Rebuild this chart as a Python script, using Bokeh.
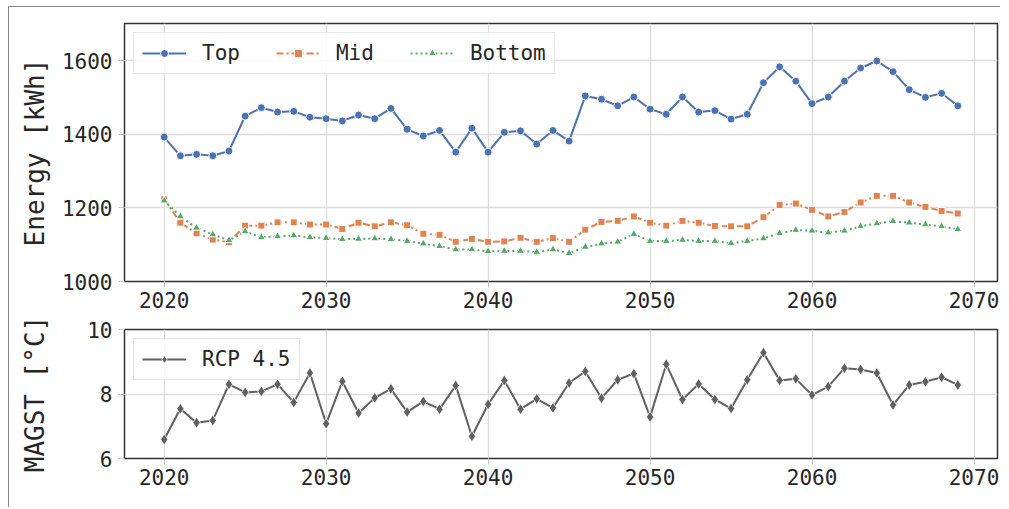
from bokeh.plotting import figure
from bokeh.models import Range1d, FixedTicker, Legend, LegendItem
from bokeh.layouts import column
from bokeh.embed import file_html
from bokeh.resources import INLINE

years = list(range(2020, 2070))
top = [1393, 1342, 1346, 1342, 1355, 1450, 1473, 1461, 1463, 1447,
       1443, 1437, 1453, 1443, 1471, 1414, 1396, 1411, 1352, 1417,
       1352, 1406, 1410, 1374, 1411, 1382, 1505, 1496, 1478, 1502,
       1469, 1455, 1502, 1461, 1465, 1442, 1455, 1541, 1584, 1545,
       1484, 1502, 1545, 1581, 1600, 1571, 1522, 1501, 1512, 1478]
mid = [1224, 1160, 1131, 1114, 1107, 1152, 1152, 1161, 1161, 1155,
       1155, 1143, 1160, 1150, 1161, 1153, 1130, 1127, 1108, 1116,
       1108, 1109, 1119, 1108, 1118, 1108, 1141, 1162, 1165, 1177,
       1160, 1152, 1165, 1160, 1151, 1150, 1150, 1175, 1208, 1212,
       1195, 1177, 1189, 1215, 1233, 1233, 1215, 1203, 1192, 1185]
bottom = [1220, 1177, 1146, 1128, 1112, 1136, 1120, 1123, 1125, 1120,
          1118, 1115, 1116, 1117, 1115, 1110, 1103, 1096, 1087, 1087,
          1082, 1083, 1083, 1080, 1087, 1077, 1094, 1103, 1108, 1129,
          1110, 1110, 1113, 1110, 1110, 1104, 1110, 1117, 1131, 1140,
          1138, 1133, 1138, 1150, 1158, 1164, 1160, 1155, 1150, 1142]
rcp = [6.59, 7.54, 7.11, 7.18, 8.30, 8.05, 8.08, 8.30, 7.74, 8.65,
       7.08, 8.39, 7.41, 7.88, 8.16, 7.44, 7.77, 7.53, 8.26, 6.69,
       7.68, 8.42, 7.53, 7.85, 7.57, 8.34, 8.70, 7.87, 8.44, 8.63,
       7.29, 8.92, 7.83, 8.31, 7.83, 7.55, 8.44, 9.28, 8.42, 8.47,
       7.97, 8.23, 8.80, 8.76, 8.65, 7.66, 8.28, 8.38, 8.52, 8.28]
x_ticks = [2020, 2030, 2040, 2050, 2060, 2070]
energy_ticks = [1000, 1200, 1400, 1600]
magst_ticks = [6, 8, 10]

FONT = "DejaVu Sans Mono"
TXT = "#262626"
GRID = "#dcdcdc"
BLUE, ORANGE, GREEN, GREY = "#4c72b0", "#dd8452", "#55a868", "#606060"


def style(p, yticks, label, standoff):
    p.xaxis.ticker = FixedTicker(ticks=x_ticks)
    p.yaxis.ticker = FixedTicker(ticks=yticks)
    for ax in (p.xaxis[0], p.yaxis[0]):
        ax.axis_line_color = None
        ax.major_tick_line_color = "#c8c8c8"
        ax.major_tick_out = 6
        ax.major_tick_in = 0
        ax.minor_tick_line_color = None
        ax.major_label_text_font = FONT
        ax.major_label_text_font_size = "21px"
        ax.major_label_text_color = TXT
    p.xaxis.major_label_standoff = 4
    p.yaxis.major_label_standoff = 6
    p.yaxis.axis_label = label
    p.yaxis.axis_label_text_font = FONT
    p.yaxis.axis_label_text_font_size = "26px"
    p.yaxis.axis_label_text_font_style = "normal"
    p.yaxis.axis_label_text_color = TXT
    p.yaxis.axis_label_standoff = standoff
    p.grid.grid_line_color = GRID
    p.grid.grid_line_width = 1.3
    p.outline_line_color = "#333333"
    p.outline_line_width = 1.5
    p.background_fill_color = "white"
    p.border_fill_color = "white"


p1 = figure(frame_width=873, frame_height=258, output_backend="svg",
            toolbar_location=None, x_range=Range1d(2017.55, 2071.45),
            y_range=Range1d(1000, 1702), min_border_left=115,
            min_border_right=3, min_border_top=16, min_border_bottom=30)
style(p1, energy_ticks, "Energy [kWh]", 9)

l_top = p1.line(years, top, line_color=BLUE, line_width=2)
s_top = p1.scatter(years, top, marker="circle", size=8, fill_color=BLUE,
                   line_color="white", line_width=1)
l_mid = p1.line(years, mid, line_color=ORANGE, line_width=2, line_dash="7 3 2 3")
s_mid = p1.scatter(years, mid, marker="square", size=7, fill_color=ORANGE,
                   line_color="white", line_width=1)
l_bot = p1.line(years, bottom, line_color=GREEN, line_width=2, line_dash="2 3")
s_bot = p1.scatter(years, bottom, marker="triangle", size=8, fill_color=GREEN,
                   line_color="white", line_width=1)

leg1 = Legend(items=[LegendItem(label="Top", renderers=[l_top, s_top]),
                     LegendItem(label="Mid", renderers=[l_mid, s_mid]),
                     LegendItem(label="Bottom", renderers=[l_bot, s_bot])],
              location="top_left", orientation="horizontal")
p1.add_layout(leg1, "center")

p2 = figure(frame_width=873, frame_height=129, output_backend="svg",
            toolbar_location=None, x_range=Range1d(2017.55, 2071.45),
            y_range=Range1d(6, 10), min_border_left=115,
            min_border_right=3, min_border_top=18, min_border_bottom=49)
style(p2, magst_ticks, "MAGST [°C]", 34)

l_rcp = p2.line(years, rcp, line_color=GREY, line_width=2)
s_rcp = p2.scatter(years, rcp, marker="diamond", size=11, fill_color=GREY,
                   line_color="white", line_width=0.8)
leg2 = Legend(items=[LegendItem(label="RCP 4.5", renderers=[l_rcp, s_rcp])],
              location="top_left")
p2.add_layout(leg2, "center")

for lg in (leg1, leg2):
    lg.label_text_font = FONT
    lg.label_text_font_size = "21px"
    lg.label_text_color = TXT
    lg.glyph_width = 44
    lg.glyph_height = 20
    lg.label_standoff = 16
    lg.spacing = 36
    lg.padding = 8
    lg.margin = 9
    lg.border_line_color = "#cccccc"
    lg.border_line_width = 1
    lg.background_fill_color = "white"
    lg.background_fill_alpha = 0.85

layout = column(p1, p2, spacing=0,
                styles={"margin-left": "8px", "margin-top": "6px",
                        "border-left": "1px solid #888888",
                        "border-top": "1px solid #888888"})

open("out.html", "w").write(file_html(layout, INLINE))
